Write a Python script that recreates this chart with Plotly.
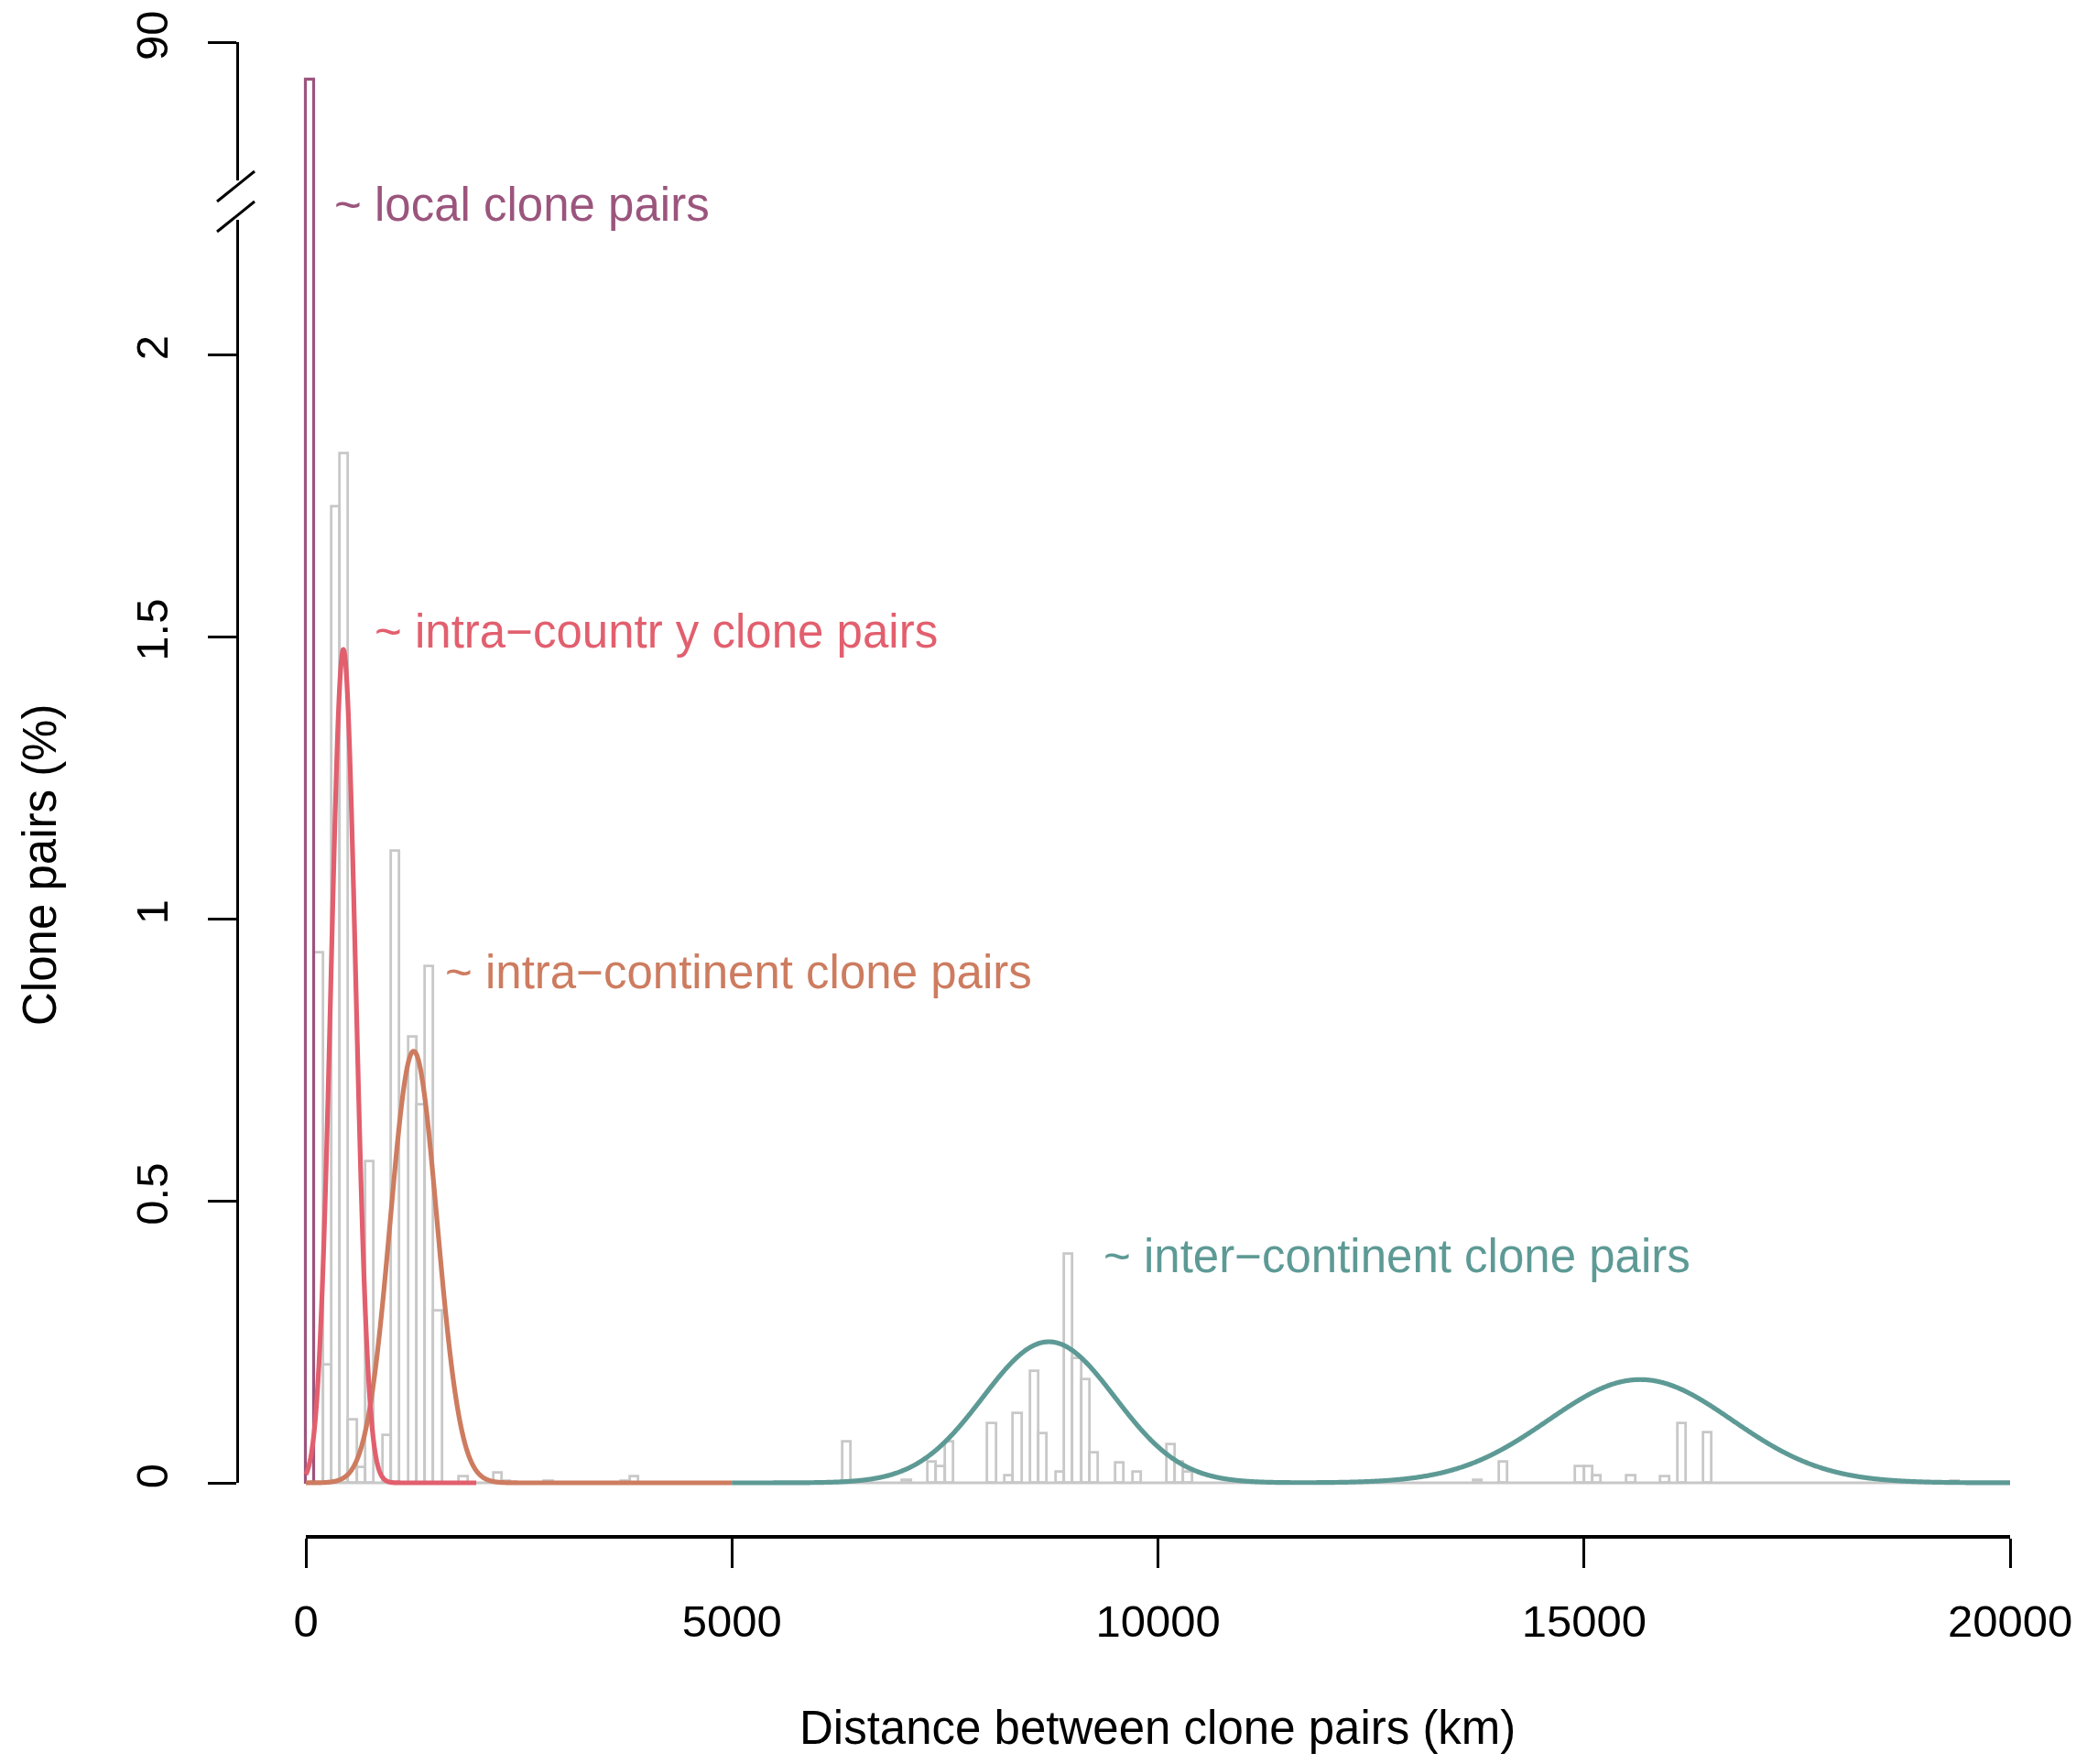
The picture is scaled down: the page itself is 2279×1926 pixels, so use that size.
import numpy as np
import plotly.graph_objects as go

# ---------------- data ----------------
BIN_WIDTH_KM = 100

# local clone pairs: first bin (0-100 km), drawn above the axis break
LOCAL_BIN_START_KM = [0]
LOCAL_PCT = [88.5]

# remaining histogram bins (start of 100 km bin) and percentage of clone pairs
BIN_START_KM = [100, 200, 300, 400, 500, 600, 700, 900, 1000, 1200, 1300, 1400, 1500,
                1800, 2200, 2300, 2800, 3700, 3800,
                6300, 7000, 7300, 7400, 7500, 8000, 8200, 8300, 8500, 8600, 8800,
                8900, 9000, 9100, 9200, 9500, 9700, 10100, 10200, 10300,
                13700, 14000, 14900, 15000, 15100, 15500, 15900, 16100, 16400, 19300]
BIN_PCT = [0.94, 0.21, 1.73, 1.825, 0.112, 0.027, 0.57, 0.085, 1.12, 0.79, 0.67, 0.915, 0.305,
           0.012, 0.018, 0.004, 0.004, 0.004, 0.011,
           0.073, 0.005, 0.038, 0.03, 0.073, 0.105, 0.0135, 0.124, 0.1975, 0.087, 0.019,
           0.406, 0.22, 0.184, 0.054, 0.036, 0.019, 0.068, 0.038, 0.02,
           0.005, 0.038, 0.03, 0.03, 0.0135, 0.0135, 0.011, 0.105, 0.089, 0.003]
X_MIN_KM, X_MAX_KM = 0, 20000

# fitted normal components (peak height in %, mean and sd in km, drawn range)
COMP_GROUP = ["intra-country", "intra-continent", "inter-continent", "inter-continent"]
COMP_MEAN_KM = [440, 1265, 8720, 15660]
COMP_SD_KM = [145, 275, 775, 1080]
COMP_PEAK_PCT = [1.477, 0.765, 0.25, 0.183]
GROUP_RANGE_KM = {"intra-continent": (0, 5000), "intra-country": (0, 2000),
                  "inter-continent": (5000, 20000)}

LABEL_LOCAL = "~ local clone pairs"
LABEL_GROUP = {"intra-country": "~ intra\u2212countr y clone pairs",
               "intra-continent": "~ intra\u2212continent clone pairs",
               "inter-continent": "~ inter\u2212continent clone pairs"}

X_TICKS = [0, 5000, 10000, 15000, 20000]
Y_TICKS_LOW = [0, 0.5, 1, 1.5, 2]
Y_TICKS_LOW_TEXT = ["0", "0.5", "1", "1.5", "2"]
Y_TICKS_HIGH = [90]
X_TITLE = "Distance between clone pairs (km)"
Y_TITLE = "Clone pairs (%)"

# ---------------- styles ----------------
C_LOCAL = "#9B557D"
C_GROUP = {"intra-country": "#E25F6E", "intra-continent": "#CD7C60",
           "inter-continent": "#5E9A95"}
C_BAR = "#C8C8C8"
FONT = "Liberation Sans, Arial, Helvetica, sans-serif"
FS_TICK = 49
FS_TEXT = 51

# ---------------- geometry (pixels of the 2279x1926 page) ----------------
PAGE_W, PAGE_H, OFF = 2279, 1926, 8
W, H = PAGE_W - 2 * OFF, PAGE_H - 2 * OFF


def fx(px):
    return (px - OFF) / W


def fy(py):
    return 1 - (py - OFF) / H


X0_PX, X1_PX = 334, 2195          # 0 km and 20000 km
PAD_KM = 300                      # data area extends a little beyond the axis line
KM_PX = (X1_PX - X0_PX) / (X_MAX_KM - X_MIN_KM)
XAXIS_PY = 1676
YAXIS_PX = 259
# lower segment: value 0 at 1619, value 2 at 387
LOW_A_PY, LOW_A_V, LOW_B_PY, LOW_B_V = 1619, 0.0, 387, 2.0
# upper segment: value 90 at 46, value 84.5 at 197
UP_A_PY, UP_A_V, UP_B_PY, UP_B_V = 197, 84.5, 46, 90.0


def val(py, a_py, a_v, b_py, b_v):
    return a_v + (py - a_py) * (b_v - a_v) / (b_py - a_py)


LOW_DATA_DOM = (XAXIS_PY, 218)
UP_DATA_DOM = (218, 18)
LOW_AX_DOM = (1619, 240)
UP_AX_DOM = (197, 46)

low_rng = [val(p, LOW_A_PY, LOW_A_V, LOW_B_PY, LOW_B_V) for p in LOW_DATA_DOM]
up_rng = [val(p, UP_A_PY, UP_A_V, UP_B_PY, UP_B_V) for p in UP_DATA_DOM]
low_ax_rng = [val(p, LOW_A_PY, LOW_A_V, LOW_B_PY, LOW_B_V) for p in LOW_AX_DOM]
up_ax_rng = [val(p, UP_A_PY, UP_A_V, UP_B_PY, UP_B_V) for p in UP_AX_DOM]

fig = go.Figure()

centers = [s + BIN_WIDTH_KM / 2 for s in BIN_START_KM]
fig.add_trace(go.Bar(x=centers, y=BIN_PCT, width=BIN_WIDTH_KM, xaxis="x", yaxis="y",
                     marker=dict(color="rgba(0,0,0,0)", line=dict(color=C_BAR, width=2.8)),
                     showlegend=False, hoverinfo="skip"))
# zero-height bins: baseline
fig.add_trace(go.Scatter(x=[X_MIN_KM, X_MAX_KM], y=[0, 0], mode="lines", xaxis="x", yaxis="y",
                         line=dict(color=C_BAR, width=2.8), showlegend=False, hoverinfo="skip"))

lcent = [s + BIN_WIDTH_KM / 2 for s in LOCAL_BIN_START_KM]
for ya in ["y", "y2"]:
    fig.add_trace(go.Bar(x=lcent, y=LOCAL_PCT, width=BIN_WIDTH_KM, xaxis="x", yaxis=ya,
                         marker=dict(color="rgba(0,0,0,0)", line=dict(color=C_LOCAL, width=3.2)),
                         showlegend=False, hoverinfo="skip"))

for g in ["intra-continent", "intra-country", "inter-continent"]:
    lo, hi = GROUP_RANGE_KM[g]
    xs = np.linspace(lo, hi, 2000)
    ys = np.zeros_like(xs)
    for grp, m, s, p in zip(COMP_GROUP, COMP_MEAN_KM, COMP_SD_KM, COMP_PEAK_PCT):
        if grp == g:
            ys += p * np.exp(-0.5 * ((xs - m) / s) ** 2)
    fig.add_trace(go.Scatter(x=xs, y=ys, mode="lines", xaxis="x", yaxis="y",
                             line=dict(color=C_GROUP[g], width=5.2, simplify=False),
                             showlegend=False, hoverinfo="skip"))

# empty traces so the display-only axes exist
for xa, ya in [("x", "y3"), ("x", "y4"), ("x2", "y")]:
    fig.add_trace(go.Scatter(x=[], y=[], xaxis=xa, yaxis=ya, showlegend=False, hoverinfo="skip"))

tickfont = dict(family=FONT, size=FS_TICK, color="black")
fig.update_layout(
    width=W, height=H, margin=dict(l=0, r=0, t=0, b=0, pad=0, autoexpand=False),
    paper_bgcolor="white", plot_bgcolor="rgba(0,0,0,0)",
    barmode="overlay", bargap=0,
    xaxis=dict(domain=[fx(X0_PX - PAD_KM * KM_PX), fx(X1_PX + PAD_KM * KM_PX)],
               range=[X_MIN_KM - PAD_KM, X_MAX_KM + PAD_KM],
               anchor="y", visible=False, automargin=False),
    xaxis2=dict(domain=[fx(X0_PX), fx(X1_PX)], range=[X_MIN_KM, X_MAX_KM],
                anchor="y", showgrid=False, zeroline=False, automargin=False,
                showline=True, linecolor="black", linewidth=3.5,
                ticks="outside", ticklen=32, tickwidth=3, tickcolor="black",
                tickvals=X_TICKS, ticktext=[str(t) for t in X_TICKS],
                tickfont=tickfont, ticklabelstandoff=16),
    yaxis=dict(domain=[fy(LOW_DATA_DOM[0]), fy(LOW_DATA_DOM[1])], range=low_rng,
               visible=False, anchor="x", automargin=False),
    yaxis2=dict(domain=[fy(UP_DATA_DOM[0]), fy(UP_DATA_DOM[1])], range=up_rng,
                visible=False, anchor="x", automargin=False),
    yaxis3=dict(domain=[fy(LOW_AX_DOM[0]), fy(LOW_AX_DOM[1])], range=low_ax_rng,
                anchor="free", position=fx(YAXIS_PX), showgrid=False, zeroline=False,
                automargin=False,
                showline=True, linecolor="black", linewidth=3,
                ticks="outside", ticklen=31, tickwidth=3, tickcolor="black",
                tickvals=Y_TICKS_LOW, ticktext=Y_TICKS_LOW_TEXT, tickangle=-90,
                tickfont=tickfont, ticklabelstandoff=24),
    yaxis4=dict(domain=[fy(UP_AX_DOM[0]), fy(UP_AX_DOM[1])], range=up_ax_rng,
                anchor="free", position=fx(YAXIS_PX), showgrid=False, zeroline=False,
                automargin=False,
                showline=True, linecolor="black", linewidth=3,
                ticks="outside", ticklen=31, tickwidth=3, tickcolor="black",
                tickvals=Y_TICKS_HIGH, ticktext=[str(t) for t in Y_TICKS_HIGH], tickangle=-90,
                tickfont=tickfont, ticklabelstandoff=24),
)

# axis break marks
for (xa, ya, xb, yb) in [(237, 220, 278, 187), (237, 253, 278, 220)]:
    fig.add_shape(type="line", xref="paper", yref="paper", x0=fx(xa), y0=fy(ya), x1=fx(xb), y1=fy(yb),
                  line=dict(color="black", width=3))

# labels
ann = [(LABEL_LOCAL, 363, 224, C_LOCAL),
       (LABEL_GROUP["intra-country"], 407, 689, C_GROUP["intra-country"]),
       (LABEL_GROUP["intra-continent"], 484, 1061, C_GROUP["intra-continent"]),
       (LABEL_GROUP["inter-continent"], 1203, 1371, C_GROUP["inter-continent"])]
for txt, px, py, col in ann:
    fig.add_annotation(text=txt, xref="paper", yref="paper", x=fx(px), y=fy(py),
                       xanchor="left", yanchor="middle", showarrow=False,
                       font=dict(family=FONT, size=FS_TEXT, color=col))

fig.add_annotation(text=X_TITLE, xref="paper", yref="paper", x=fx(1264), y=fy(1886),
                   xanchor="center", yanchor="middle", showarrow=False,
                   font=dict(family=FONT, size=FS_TEXT, color="black"))
fig.add_annotation(text=Y_TITLE, xref="paper", yref="paper", x=fx(44), y=fy(945),
                   xanchor="center", yanchor="middle", showarrow=False, textangle=-90,
                   font=dict(family=FONT, size=FS_TEXT, color="black"))

fig.write_html("out.html")
